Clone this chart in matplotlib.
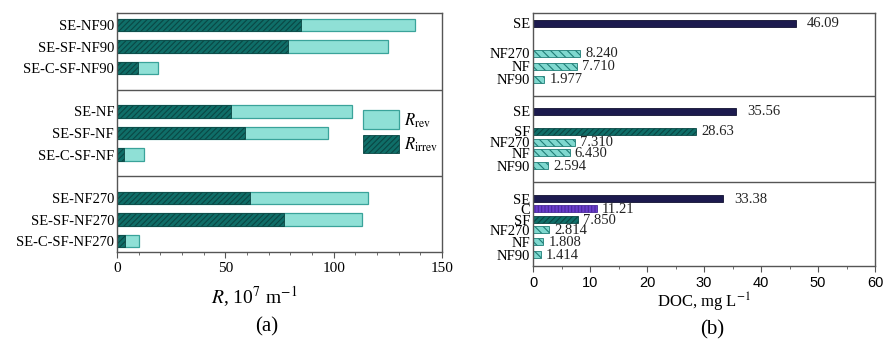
import numpy as np
import matplotlib.pyplot as plt

# panel (a): filtration resistance, 10^7 m^-1
res_labels = ["SE-NF90", "SE-SF-NF90", "SE-C-SF-NF90",
              "SE-NF", "SE-SF-NF", "SE-C-SF-NF",
              "SE-NF270", "SE-SF-NF270", "SE-C-SF-NF270"]
r_irrev = [85, 79, 9.8, 52.5, 59, 3, 61.5, 77, 3.7]
r_total = [137.5, 125, 19, 108.5, 97.5, 12.5, 116, 113, 10.3]

# panel (b): DOC, mg/L
doc_labels = ["SE", "NF270", "NF", "NF90",
              "SE", "SF", "NF270", "NF", "NF90",
              "SE", "C", "SF", "NF270", "NF", "NF90"]
doc_values = [46.09, 8.240, 7.710, 1.977,
              35.56, 28.63, 7.310, 6.430, 2.594,
              33.38, 11.21, 7.850, 2.814, 1.808, 1.414]
doc_text = ["46.09", "8.240", "7.710", "1.977",
            "35.56", "28.63", "7.310", "6.430", "2.594",
            "33.38", "11.21", "7.850", "2.814", "1.808", "1.414"]
doc_kind = ["SE", "NF", "NF", "NF",
            "SE", "SF", "NF", "NF", "NF",
            "SE", "C", "SF", "NF", "NF", "NF"]

# layout
res_pos = [0, 1, 2, 4, 5, 6, 8, 9, 10]
res_sep = [3, 7]
doc_pos = [10, 40, 53, 66, 98, 118, 129, 140, 153, 186, 196, 207, 217, 229, 242]
doc_sep = [83, 169]

light = "#8fe0d6"
light_edge = "#3aa39a"
dark = "#0f6e68"
dark_edge = "#0a4744"
styles = {
    "SE": dict(color="#1c1a4e", edgecolor="#101030", hatch=None),
    "C": dict(color="#6a3ccc", edgecolor="#4a2a9a", hatch="|||||"),
    "SF": dict(color=dark, edgecolor=dark_edge, hatch="//////"),
    "NF": dict(color="#7fd8cf", edgecolor="#1f7d76", hatch="\\\\\\\\"),
}

plt.rcParams["font.family"] = ["Liberation Serif", "DejaVu Serif"]
plt.rcParams["mathtext.fontset"] = "stix"
plt.rcParams["hatch.linewidth"] = 0.8
spine_col = "#555555"

fig = plt.figure(figsize=(8.83, 3.42), dpi=100)
W, H = 883, 342

ax1 = fig.add_axes([117 / W, 1 - 252 / H, (442 - 117) / W, (252 - 13) / H])
ax2 = fig.add_axes([533 / W, 1 - 266 / H, (875 - 533) / W, (266 - 13) / H])

# ---- (a)
plt.rcParams["hatch.color"] = dark_edge
ax1.barh(res_pos, r_total, height=0.58, color=light, edgecolor=light_edge,
         linewidth=0.9, label=r"$R_{\mathrm{rev}}$")
ax1.barh(res_pos, r_irrev, height=0.58, color=dark, edgecolor=dark_edge,
         linewidth=0.6, hatch="//////", label=r"$R_{\mathrm{irrev}}$")
for s in res_sep:
    ax1.axhline(s, color=spine_col, lw=1)
ax1.set_xlim(0, 150)
ax1.set_ylim(10.5, -0.55)
ax1.set_yticks(res_pos)
ax1.set_yticklabels(res_labels, fontsize=10.5)
ax1.tick_params(axis="y", length=0, pad=2)
ax1.set_xticks([0, 50, 100, 150])
ax1.set_xticks(np.arange(0, 151, 10), minor=True)
ax1.tick_params(axis="x", labelsize=11, length=4, direction="out",
                color=spine_col)
ax1.tick_params(axis="x", which="minor", length=2.5, color=spine_col)
leg = ax1.legend(loc="upper left", bbox_to_anchor=(0.71, 0.655), frameon=False,
                 fontsize=12, handlelength=2.2, handleheight=1.35,
                 labelspacing=0.3, handletextpad=0.3)

# ---- (b)
for y, v, t, k in zip(doc_pos, doc_values, doc_text, doc_kind):
    st = styles[k]
    plt.rcParams["hatch.color"] = st["edgecolor"]
    ax2.barh(y, v, height=7, color=st["color"], edgecolor=st["edgecolor"],
             linewidth=0.6, hatch=st["hatch"])
    off = 2.0 if k == "SE" else 0.9
    ax2.text(v + off, y + 0.5, t, va="center", ha="left", fontsize=10.5,
             color="#222222")
for s in doc_sep:
    ax2.axhline(s, color=spine_col, lw=1)
ax2.set_xlim(0, 60)
ax2.set_ylim(253, 0)
ax2.set_yticks(doc_pos)
ax2.set_yticklabels(doc_labels, fontsize=10.5)
ax2.tick_params(axis="y", length=0, pad=2)
ax2.set_xticks(np.arange(0, 61, 10))
ax2.set_xticks(np.arange(0, 61, 5), minor=True)
ax2.tick_params(axis="x", labelsize=10.5, length=4, direction="out",
                color=spine_col)
ax2.tick_params(axis="x", which="minor", length=2.5, color=spine_col)
for lab in ax2.get_xticklabels():
    lab.set_family(["Liberation Sans", "DejaVu Sans"])

for ax in (ax1, ax2):
    for sp in ax.spines.values():
        sp.set_color(spine_col)
        sp.set_linewidth(1)

fig.text(254 / W, 1 - 297 / H, r"$R$, 10$^{7}$ m$^{-1}$", ha="center",
         va="center", fontsize=14)
fig.text(267 / W, 1 - 327 / H, "(a)", ha="center", va="center", fontsize=15)
fig.text(704 / W, 1 - 302 / H, "DOC, mg L$^{-1}$", ha="center", va="center",
         fontsize=12)
fig.text(712 / W, 1 - 330 / H, "(b)", ha="center", va="center", fontsize=15)

fig.savefig("out.png", dpi=100)
